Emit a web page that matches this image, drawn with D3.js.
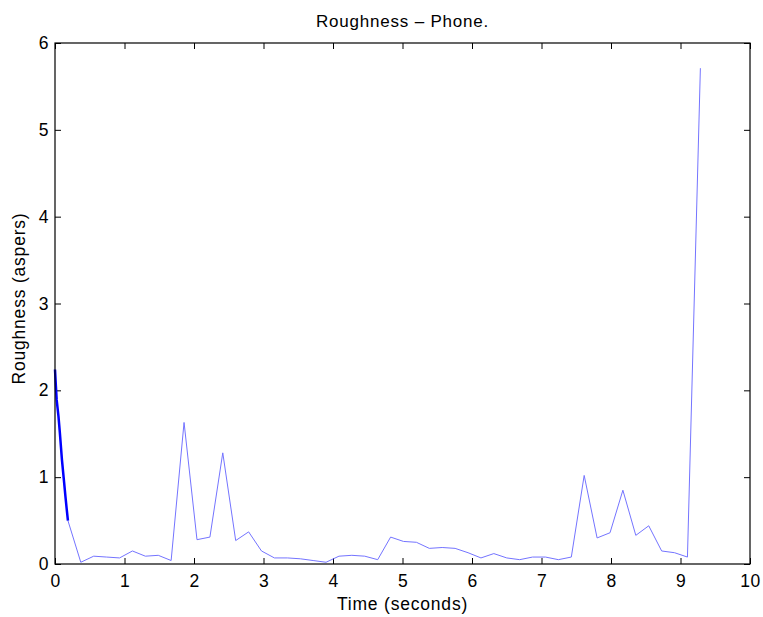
<!DOCTYPE html>
<html>
<head>
<meta charset="utf-8">
<script src="https://cdn.jsdelivr.net/npm/d3@7"></script>
<style>
	body { margin: 0; background: #fff; }
	svg text { font-family: "Liberation Sans", Arial, Helvetica, sans-serif; fill: #000; }
	.axis path { display: none; }
	.axis line { stroke: #000; stroke-width: 1; }
	.axis text { font-size: 17.5px; letter-spacing: 0.5px; }
</style>
</head>
<body>
<svg id="chart" width="763" height="617"></svg>
<script>
// roughness per frame (thin line)
var times = [0.186, 0.371, 0.557, 0.743, 0.929, 1.114, 1.300, 1.486, 1.671, 1.857,
	2.043, 2.229, 2.414, 2.600, 2.786, 2.971, 3.157, 3.343, 3.529, 3.714,
	3.900, 4.086, 4.271, 4.457, 4.643, 4.829, 5.014, 5.200, 5.386, 5.571,
	5.757, 5.943, 6.129, 6.314, 6.500, 6.686, 6.871, 7.057, 7.243, 7.429,
	7.614, 7.800, 7.986, 8.171, 8.357, 8.543, 8.729, 8.914, 9.100, 9.286];
var roughness = [0.50, 0.02, 0.09, 0.08, 0.07, 0.15, 0.09, 0.10, 0.04, 1.63,
	0.28, 0.31, 1.28, 0.27, 0.37, 0.15, 0.07, 0.07, 0.06, 0.04,
	0.02, 0.09, 0.10, 0.09, 0.05, 0.31, 0.26, 0.25, 0.18, 0.19,
	0.18, 0.13, 0.07, 0.12, 0.07, 0.05, 0.08, 0.08, 0.05, 0.08,
	1.02, 0.30, 0.36, 0.85, 0.33, 0.44, 0.15, 0.13, 0.08, 5.71];

// onset segment (thick line)
var onsetTimes = [0, 0.012, 0.024, 0.05, 0.07, 0.10, 0.13, 0.15, 0.17, 0.186];
var onsetRoughness = [2.24, 2.06, 1.89, 1.70, 1.51, 1.20, 0.95, 0.78, 0.62, 0.50];

var xTicks = [0, 1, 2, 3, 4, 5, 6, 7, 8, 9, 10];
var yTicks = [0, 1, 2, 3, 4, 5, 6];

var svg = d3.select('#chart');
var pLeft = 55, pRight = 750, pTop = 43, pBottom = 564;

var x = d3.scaleLinear().domain([0, 10]).range([pLeft, pRight]);
var y = d3.scaleLinear().domain([0, 6]).range([pBottom, pTop]);

// axes, ticks pointing inward on all four sides
svg.append('g').attr('class', 'axis')
	.attr('transform', 'translate(0,' + pBottom + ')')
	.call(d3.axisBottom(x).tickValues(xTicks).tickFormat(d3.format('d'))
		.tickSizeInner(-6).tickSizeOuter(0).tickPadding(11));
svg.append('g').attr('class', 'axis')
	.attr('transform', 'translate(0,' + pTop + ')')
	.call(d3.axisTop(x).tickValues(xTicks).tickSizeInner(-6).tickSizeOuter(0).tickFormat(''));
svg.append('g').attr('class', 'axis')
	.attr('transform', 'translate(' + pLeft + ',0)')
	.call(d3.axisLeft(y).tickValues(yTicks).tickFormat(d3.format('d'))
		.tickSizeInner(-6).tickSizeOuter(0).tickPadding(6));
svg.append('g').attr('class', 'axis')
	.attr('transform', 'translate(' + pRight + ',0)')
	.call(d3.axisRight(y).tickValues(yTicks).tickSizeInner(-6).tickSizeOuter(0).tickFormat(''));

var line = d3.line()
	.x(function(d) { return x(d[0]); })
	.y(function(d) { return y(d[1]); });

svg.append('path')
	.datum(d3.zip(times, roughness))
	.attr('d', line)
	.attr('fill', 'none')
	.attr('stroke', '#7474ff')
	.attr('stroke-width', 1);

svg.append('path')
	.datum(d3.zip(onsetTimes, onsetRoughness))
	.attr('d', line)
	.attr('fill', 'none')
	.attr('stroke', '#0000ff')
	.attr('stroke-width', 2.5);

// frame
svg.append('rect')
	.attr('x', pLeft).attr('y', pTop)
	.attr('width', pRight - pLeft).attr('height', pBottom - pTop)
	.attr('fill', 'none').attr('stroke', '#000').attr('stroke-width', 1.2);

svg.append('text')
	.attr('x', (pLeft + pRight) / 2).attr('y', 27)
	.attr('text-anchor', 'middle')
	.style('font-size', '17px').style('letter-spacing', '0.8px')
	.text('Roughness \u2013 Phone.');

svg.append('text')
	.attr('x', (pLeft + pRight) / 2).attr('y', 610)
	.attr('text-anchor', 'middle')
	.style('font-size', '17.5px').style('letter-spacing', '0.8px')
	.text('Time (seconds)');

svg.append('text')
	.attr('transform', 'translate(25,' + ((pTop + pBottom) / 2 - 5) + ') rotate(-90)')
	.attr('text-anchor', 'middle')
	.style('font-size', '17.5px').style('letter-spacing', '0.8px')
	.text('Roughness (aspers)');
</script>
</body>
</html>
